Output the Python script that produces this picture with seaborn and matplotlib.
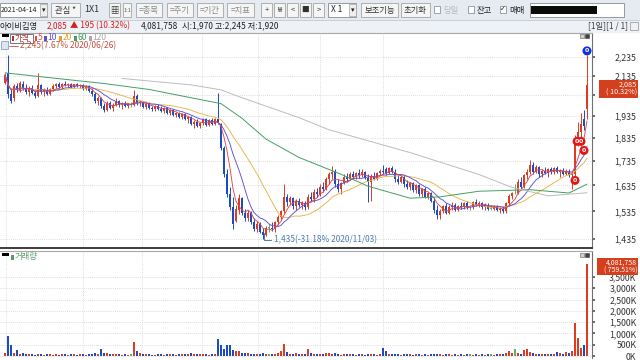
import numpy as np
import pandas as pd
import seaborn as sns
from matplotlib import pyplot as plt
from matplotlib.patches import Rectangle
from matplotlib.ticker import NullLocator

# daily candles, 2020-06-26 .. 2021-04-14
opens = [2100, 2150, 2040, 2020, 2080, 2060, 2095, 2070, 2050, 2070,
         2045, 2030, 2085, 2050, 2060, 2040, 2065, 2080, 2090, 2075,
         2095, 2085, 2095, 2075, 2090, 2080, 2085, 2065, 2080, 2055,
         2040, 2010, 2020, 1985, 1965, 2000, 1975, 1990, 2010, 1990,
         2000, 1985, 1990, 1990, 2030, 2000, 2005, 1980, 1995, 1975,
         1970, 1985, 1970, 1960, 1975, 1950, 1965, 1940, 1950, 1930,
         1945, 1920, 1930, 1900, 1910, 1890, 1905, 1920, 1895, 1915,
         1900, 1920, 1900, 1790, 1680, 1600, 1550, 1500, 1540, 1585,
         1530, 1510, 1530, 1495, 1470, 1490, 1460, 1450, 1475, 1475,
         1470, 1495, 1515, 1535, 1590, 1570, 1585, 1555, 1575, 1560,
         1565, 1550, 1590, 1580, 1610, 1600, 1630, 1620, 1660, 1680,
         1690, 1640, 1620, 1645, 1670, 1660, 1680, 1670, 1685, 1675,
         1690, 1665, 1650, 1670, 1660, 1685, 1695, 1700, 1685, 1705,
         1690, 1660, 1650, 1670, 1640, 1630, 1645, 1615, 1635, 1600,
         1620, 1590, 1605, 1575, 1540, 1520, 1535, 1555, 1530, 1550,
         1560, 1540, 1555, 1550, 1565, 1550, 1550, 1570, 1560, 1565,
         1550, 1560, 1545, 1545, 1555, 1540, 1545, 1535, 1565, 1595,
         1605, 1605, 1650, 1630, 1675, 1690, 1720, 1690, 1710, 1680,
         1695, 1685, 1700, 1690, 1705, 1690, 1695, 1680, 1690, 1675,
         1680, 1830, 1860, 1920, 1970]
highs = [2150, 2245, 2070, 2090, 2100, 2110, 2110, 2090, 2080, 2085,
         2060, 2150, 2095, 2070, 2075, 2070, 2090, 2100, 2105, 2100,
         2110, 2100, 2100, 2095, 2100, 2095, 2090, 2085, 2085, 2070,
         2050, 2030, 2025, 2000, 2010, 2010, 2000, 2020, 2015, 2005,
         2010, 2000, 2005, 2060, 2040, 2015, 2010, 2000, 2005, 1985,
         1990, 1995, 1985, 1980, 1980, 1970, 1970, 1955, 1955, 1950,
         1950, 1935, 1935, 1915, 1920, 1910, 1925, 1925, 1920, 1925,
         1925, 2046, 1905, 1800, 1700, 1630, 1590, 1560, 1600, 1590,
         1545, 1540, 1535, 1510, 1500, 1495, 1475, 1480, 1490, 1495,
         1500, 1520, 1540, 1640, 1600, 1595, 1590, 1580, 1585, 1575,
         1575, 1600, 1610, 1620, 1625, 1640, 1650, 1670, 1690, 1715,
         1700, 1660, 1650, 1680, 1685, 1690, 1695, 1690, 1700, 1700,
         1695, 1680, 1680, 1690, 1690, 1700, 1720, 1710, 1710, 1715,
         1700, 1680, 1675, 1675, 1655, 1650, 1650, 1640, 1640, 1625,
         1630, 1610, 1610, 1590, 1560, 1545, 1560, 1565, 1560, 1570,
         1565, 1560, 1570, 1570, 1575, 1560, 1575, 1580, 1575, 1570,
         1565, 1565, 1560, 1560, 1560, 1550, 1555, 1570, 1600, 1610,
         1640, 1660, 1670, 1680, 1700, 1740, 1730, 1720, 1715, 1700,
         1710, 1705, 1710, 1710, 1715, 1700, 1705, 1700, 1700, 1690,
         1850, 1910, 1950, 1965, 2245]
lows = [2090, 2020, 2000, 2010, 2050, 2050, 2060, 2040, 2030, 2040,
        2020, 2025, 2040, 2030, 2035, 2035, 2055, 2070, 2070, 2065,
        2080, 2075, 2070, 2070, 2075, 2070, 2060, 2060, 2050, 2030,
        2000, 1990, 1975, 1955, 1960, 1970, 1960, 1985, 1980, 1970,
        1980, 1975, 1980, 1985, 1990, 1985, 1975, 1970, 1970, 1960,
        1960, 1965, 1955, 1950, 1945, 1940, 1935, 1930, 1925, 1920,
        1915, 1905, 1895, 1880, 1885, 1880, 1895, 1890, 1890, 1895,
        1895, 1900, 1780, 1670, 1590, 1540, 1470, 1495, 1525, 1520,
        1500, 1500, 1490, 1465, 1460, 1455, 1435, 1445, 1460, 1465,
        1460, 1485, 1505, 1530, 1555, 1560, 1545, 1540, 1550, 1545,
        1540, 1545, 1575, 1570, 1590, 1595, 1610, 1615, 1640, 1660,
        1630, 1610, 1600, 1640, 1650, 1655, 1660, 1660, 1665, 1670,
        1660, 1570, 1575, 1655, 1655, 1675, 1680, 1675, 1680, 1685,
        1650, 1640, 1645, 1630, 1620, 1615, 1610, 1605, 1595, 1590,
        1585, 1580, 1570, 1530, 1505, 1505, 1530, 1525, 1525, 1540,
        1535, 1535, 1545, 1545, 1545, 1540, 1545, 1555, 1550, 1545,
        1540, 1540, 1540, 1540, 1535, 1530, 1530, 1530, 1560, 1580,
        1600, 1600, 1620, 1625, 1660, 1680, 1680, 1685, 1670, 1670,
        1680, 1670, 1680, 1680, 1685, 1670, 1675, 1675, 1670, 1620,
        1670, 1800, 1840, 1870, 1920]
closes = [2140, 2040, 2010, 2080, 2060, 2100, 2070, 2050, 2070, 2045,
          2030, 2085, 2050, 2060, 2040, 2065, 2080, 2090, 2075, 2095,
          2085, 2095, 2075, 2090, 2080, 2085, 2065, 2080, 2055, 2040,
          2010, 2020, 1985, 1965, 2000, 1975, 1990, 2010, 1990, 2000,
          1985, 1995, 1990, 2030, 2000, 2005, 1980, 1995, 1975, 1970,
          1985, 1970, 1960, 1975, 1950, 1965, 1940, 1950, 1930, 1945,
          1920, 1930, 1900, 1910, 1890, 1905, 1920, 1895, 1915, 1900,
          1920, 1905, 1790, 1680, 1600, 1550, 1490, 1545, 1585, 1530,
          1510, 1530, 1495, 1470, 1490, 1460, 1450, 1475, 1475, 1470,
          1495, 1515, 1535, 1590, 1570, 1585, 1555, 1575, 1560, 1565,
          1550, 1590, 1580, 1610, 1600, 1630, 1620, 1660, 1680, 1690,
          1640, 1620, 1645, 1670, 1660, 1680, 1670, 1685, 1675, 1690,
          1665, 1650, 1670, 1660, 1685, 1695, 1690, 1685, 1705, 1690,
          1660, 1650, 1670, 1640, 1630, 1645, 1615, 1635, 1600, 1620,
          1590, 1605, 1575, 1540, 1520, 1535, 1555, 1530, 1550, 1560,
          1540, 1555, 1550, 1565, 1550, 1550, 1570, 1560, 1565, 1550,
          1560, 1545, 1545, 1555, 1540, 1545, 1535, 1565, 1595, 1605,
          1605, 1650, 1630, 1675, 1690, 1720, 1690, 1710, 1680, 1695,
          1685, 1700, 1690, 1705, 1690, 1695, 1680, 1690, 1675, 1680,
          1830, 1860, 1900, 1890, 2085]
volumes_k = [120, 890, 500, 130, 260, 100, 150, 90, 70, 80,
             60, 110, 70, 60, 80, 70, 60, 90, 60, 70,
             80, 60, 90, 80, 60, 70, 80, 60, 100, 110,
             120, 90, 290, 140, 150, 80, 100, 90, 70, 60,
             70, 60, 80, 620, 200, 120, 90, 80, 70, 60,
             60, 70, 80, 60, 90, 70, 80, 60, 70, 90,
             100, 80, 120, 90, 110, 70, 90, 80, 60, 70,
             80, 750, 490, 290, 500, 470, 250, 200, 230, 150,
             130, 120, 90, 110, 80, 100, 120, 90, 80, 70,
             90, 130, 200, 520, 180, 110, 90, 120, 80, 90,
             70, 300, 120, 110, 90, 100, 80, 120, 130, 110,
             130, 90, 60, 80, 70, 90, 70, 60, 80, 70,
             60, 100, 90, 70, 60, 80, 350, 200, 110, 90,
             110, 100, 60, 80, 70, 90, 60, 70, 80, 60,
             70, 60, 80, 90, 110, 70, 60, 80, 70, 60,
             80, 60, 70, 60, 90, 70, 60, 80, 60, 70,
             60, 80, 70, 60, 90, 70, 80, 130, 240, 150,
             330, 120, 100, 260, 330, 180, 120, 110, 90, 80,
             70, 90, 80, 110, 170, 120, 90, 160, 130, 220,
             1460, 800, 360, 500, 4082]

# 60 / 120 day averages (history before the window is not in the picture)
ma60_bars = [0, 33, 48, 65, 72, 79, 87, 98, 112, 121, 135, 145, 158, 175, 188, 194]
ma60_vals = [2150, 2095, 2065, 2015, 1995, 1925, 1830, 1750, 1680, 1632, 1585, 1590, 1612, 1618, 1605, 1640]
ma120_bars = [39, 62, 72, 78, 98, 108, 135, 158, 169, 181, 194]
ma120_vals = [2121, 2088, 2063, 2029, 1928, 1872, 1771, 1679, 1627, 1594, 1606]

signal_bars = [194, 190.7, 192, 193, 190]
signal_prices = [2268, 1820, 1820, 1780, 1655]
signal_colors = ['#1030e0', '#e01818', '#e01818', '#e01818', '#e01818']

month_bars = [0.3, 26, 45.7, 65.7, 84.3, 105, 126]
price_ticks = [1435, 1535, 1635, 1735, 1835, 1935, 2035, 2135, 2235]
vol_ticks = [0, 500, 1000, 1500, 2000, 2500, 3000, 3500]

RED, BLUE, GREEN = '#dc3c22', '#1c4cc4', '#5cae6c'
MA_COLORS = {'ma5': '#e04848', 'ma10': '#5a50d8', 'ma20': '#e8b448'}

df = pd.DataFrame({'open': opens, 'high': highs, 'low': lows,
                   'close': closes, 'volume': volumes_k})
df['bar'] = np.arange(len(df))
for n in (5, 10, 20):
    df[f'ma{n}'] = df['close'].rolling(n, min_periods=1).mean()
colors = np.where(df.close > df.open, RED, np.where(df.close < df.open, BLUE, GREEN))

sns.set_theme(style='white')
plt.rcParams['font.family'] = ['Noto Sans CJK KR', 'DejaVu Sans']
plt.rcParams['axes.linewidth'] = 0.8

W, H = 640, 360
fig = plt.figure(figsize=(6.4, 3.6), dpi=100)


def frame(x0, y0, x1, y1):
    return [x0 / W, 1 - y1 / H, (x1 - x0) / W, (y1 - y0) / H]


bg = fig.add_axes([0, 0, 1, 1], zorder=0)
bg.set_xlim(0, W); bg.set_ylim(H, 0); bg.axis('off')
bg.add_patch(Rectangle((0, 0), W, 20, color='#e6eaf1'))
bg.add_patch(Rectangle((0, 20), W, 12, color='#eef1f6'))
bg.plot([0, W], [19.5, 19.5], color='#c4c9d2', lw=0.6)

# ---- price panel ----
ax = fig.add_axes(frame(0, 33, 592, 248), zorder=1)
ax.set_yscale('log')
ax.vlines(df.bar, df.low, df.high, colors=colors, lw=0.7, zorder=3)
body = (df.close - df.open).abs().clip(lower=2)
ax.bar(df.bar, body, bottom=df[['open', 'close']].min(axis=1), width=0.72,
       color=colors, linewidth=0, zorder=3)

ma = df.melt(id_vars='bar', value_vars=['ma20', 'ma10', 'ma5'], var_name='ma', value_name='price')
sns.lineplot(data=ma, x='bar', y='price', hue='ma', palette=MA_COLORS, lw=0.65,
             legend=False, ax=ax, zorder=4)
sns.lineplot(x=ma60_bars, y=ma60_vals, color='#42a062', lw=0.7, ax=ax, zorder=4)
sns.lineplot(x=ma120_bars, y=ma120_vals, color='#bcbcbc', lw=0.7, ax=ax, zorder=4)

ax.scatter(signal_bars, signal_prices, s=42, c=signal_colors, zorder=6, linewidths=0)
for b, p in zip(signal_bars, signal_prices):
    ax.text(b, p, '0', color='white', fontsize=4.5, fontweight='bold',
            ha='center', va='center', zorder=7, family='DejaVu Sans')

ax.set_xlim(-5 / 3, 587 / 3)
ax.set_ylim(1404, 2369)
ax.yaxis.set_minor_locator(NullLocator())
ax.yaxis.tick_right()
ax.set_yticks(price_ticks)
# the 2,035 label sits under the current-price box
ax.set_yticklabels(['' if v == 2035 else f'{v:,}' for v in price_ticks])
ax.set_xticks([])
ax.set_xlabel(''); ax.set_ylabel('')
ax.tick_params(axis='y', length=2, pad=30, labelsize=6.3, colors='#555555', labelcolor='#333333')
for t in ax.get_yticklabels():
    t.set_horizontalalignment('right')
ax.grid(axis='y', ls=(0, (1, 1.5)), color='#d2d2d2', lw=0.6)
for m in month_bars:
    ax.axvline(m, ls=(0, (1, 1.5)), color='#d2d2d2', lw=0.6, zorder=0)
ax.spines['left'].set_visible(False)
ax.spines['top'].set_color('#a8a8a8')
ax.spines['right'].set_color('#707070')
ax.spines['bottom'].set_color('#3c3c3c')
ax.spines['bottom'].set_linewidth(1.4)

# ---- volume panel ----
vx = fig.add_axes(frame(0, 251, 592, 358), zorder=1)
vx.bar(df.bar, df.volume, width=0.72, color=colors, linewidth=0, zorder=3)
vx.set_xlim(-5 / 3, 587 / 3)
vx.set_ylim(-88, 4646)
vx.yaxis.tick_right()
vx.set_yticks(vol_ticks)
vx.set_yticklabels([f'{v:,}K' for v in vol_ticks])
vx.set_xticks([])
vx.tick_params(axis='y', length=2, pad=30, labelsize=6.3, colors='#555555', labelcolor='#333333')
for t in vx.get_yticklabels():
    t.set_horizontalalignment('right')
vx.grid(axis='y', ls=(0, (1, 1.5)), color='#d2d2d2', lw=0.6)
for m in month_bars:
    vx.axvline(m, ls=(0, (1, 1.5)), color='#d2d2d2', lw=0.6, zorder=0)
for s in ('left', 'bottom'):
    vx.spines[s].set_visible(False)
vx.spines['top'].set_color('#a8a8a8')
vx.spines['right'].set_color('#707070')

# ---- overlay: toolbar, legends, labels ----
ov = fig.add_axes([0, 0, 1, 1], zorder=5)
ov.set_xlim(0, W); ov.set_ylim(H, 0); ov.axis('off'); ov.patch.set_alpha(0)
FS = 6


def button(x0, x1, label, color='#303030', fc='#f5f5f5', fs=FS):
    ov.add_patch(Rectangle((x0, 3), x1 - x0, 14, fc=fc, ec='#a4a4a4', lw=0.6))
    ov.text((x0 + x1) / 2, 10, label, ha='center', va='center', fontsize=fs, color=color)


def bullet(x, y, label, color, fs=6.1):
    ov.add_patch(Rectangle((x, y - 2.5), 2.5, 5, fc=color, lw=0))
    ov.text(x + 3.3, y, label, ha='left', va='center', fontsize=fs, color=color)


ov.add_patch(Rectangle((0, 3), 47, 14, fc='white', ec='#8a8a8a', lw=0.6))
ov.text(0.3, 10, '2021-04-14', ha='left', va='center', fontsize=5.1, color='#202020')
ov.add_patch(Rectangle((40, 4), 7, 12, fc='#eeeeee', ec='#a4a4a4', lw=0.5))
ov.text(43.5, 10, '▾', ha='center', va='center', fontsize=5, color='#202020', family='DejaVu Sans')
button(51, 80, '관심 *')
ov.text(92, 10, '1X1', ha='center', va='center', fontsize=6.5, color='#303030')
button(109, 120, '▦', color='#404040')
button(123, 131, '1:1', color='#606060', fs=4)
button(136, 162, '=종목', color='#8c8c8c')
button(167, 193, '=주기', color='#8c8c8c')
button(197, 223, '=기간', color='#8c8c8c')
button(227, 254, '=지표', color='#8c8c8c')
for x0, sym in zip([261, 274, 287, 300, 313], ['+', '₩', '<', '■', '>']):
    button(x0, x0 + 11, sym, color='#303030', fs=5.5)
ov.add_patch(Rectangle((328, 3), 28, 14, fc='white', ec='#8a8a8a', lw=0.6))
ov.text(331, 10, 'X 1', ha='left', va='center', fontsize=FS, color='#202020')
ov.add_patch(Rectangle((349, 4), 7, 12, fc='#eeeeee', ec='#a4a4a4', lw=0.5))
ov.text(352.5, 10, '▾', ha='center', va='center', fontsize=5, color='#202020', family='DejaVu Sans')
button(361, 398, '보조기능')
button(401, 430, '초기화')
for x0, lab, col, chk in [(434, '당일', '#b8b8b8', False), (468, '잔고', '#202020', False),
                          (500, '매매', '#202020', True)]:
    ov.add_patch(Rectangle((x0, 6), 6, 7, fc='white', ec='#808080', lw=0.5))
    if chk:
        ov.text(x0 + 3, 9.5, '✓', ha='center', va='center', fontsize=5, color='#202020', family='DejaVu Sans')
    ov.text(x0 + 9, 10, lab, ha='left', va='center', fontsize=FS, color=col)
ov.add_patch(Rectangle((530, 3), 94, 14, fc='white', ec='#8a8a8a', lw=0.6))
ov.add_patch(Rectangle((531, 6), 66, 8, fc='#0a0a0a', lw=0))

ov.text(0, 26, '아이비김영', ha='left', va='center', fontsize=FS, color='#202020')
ov.text(47, 26, '2,085', ha='left', va='center', fontsize=FS, color='#d42020')
ov.text(70, 26, '▲ 195 (10.32%)', ha='left', va='center', fontsize=FS, color='#d42020')
ov.text(141, 26, '4,081,758', ha='left', va='center', fontsize=FS, color='#202020')
ov.text(182, 26, '시:1,970 고:2,245 저:1,920', ha='left', va='center', fontsize=FS, color='#202020')
ov.text(628, 26, '[1일][1 / 1]', ha='right', va='center', fontsize=FS, color='#404040')
ov.add_patch(Rectangle((630, 22), 8, 8, fc='#f0f0f0', ec='#909090', lw=0.5))

# price legend
ov.add_patch(Rectangle((2, 34), 7, 3, fc='black', lw=0))
ov.add_patch(Rectangle((10, 33.5), 23, 9, fc='white', ec='#606060', lw=0.6))
bullet(11.5, 38, '가격', '#b03030', fs=5.8)
for xl, lab, col in [(34.5, '5', '#e04848'), (44, '10', '#5a50d8'), (59, '20', '#e0a030'),
                     (74, '60', '#42a062'), (89, '120', '#a8a8a8')]:
    bullet(xl, 38, lab, col)
ov.add_patch(Rectangle((1, 41), 7, 8, fc='#dce6f4', ec='#7890b8', lw=0.5))
ov.plot([9, 18], [46, 46], color='#c05040', lw=0.6)
ov.text(20, 46, '2,245(7.67% 2020/06/26)', ha='left', va='center', fontsize=FS, color='#c05040')
ov.plot([264, 264, 271], [233, 240, 240], color='#4a7cb0', lw=0.7)
ov.text(274, 240, '1,435(-31.18% 2020/11/03)', ha='left', va='center', fontsize=FS, color='#4a7cb0')

# current price boxes
ov.add_patch(Rectangle((599, 80), 39, 18, fc='#d4401e', lw=0))
ov.text(637, 84.5, '2,085', ha='right', va='center', fontsize=5.2, color='white')
ov.text(637, 93, '( 10.32%)', ha='right', va='center', fontsize=5.2, color='white')
ov.add_patch(Rectangle((597, 258), 41, 17, fc='#d4401e', lw=0))
ov.text(637, 262.3, '4,081,758', ha='right', va='center', fontsize=5, color='white')
ov.text(637, 270.7, '( 759.51%)', ha='right', va='center', fontsize=5, color='white')

# volume legend and panel icons
ov.add_patch(Rectangle((2, 253), 7, 3, fc='black', lw=0))
bullet(11, 257, '거래량', '#5a9a6a', fs=FS)
for y0 in (34, 253):
    ov.add_patch(Rectangle((580, y0), 4, 4, fc='#d0d0d0', ec='#606060', lw=0.4))
    ov.add_patch(Rectangle((585, y0), 4, 4, fc='#404040', ec='#404040', lw=0.4))

fig.savefig('out.png', dpi=100)
